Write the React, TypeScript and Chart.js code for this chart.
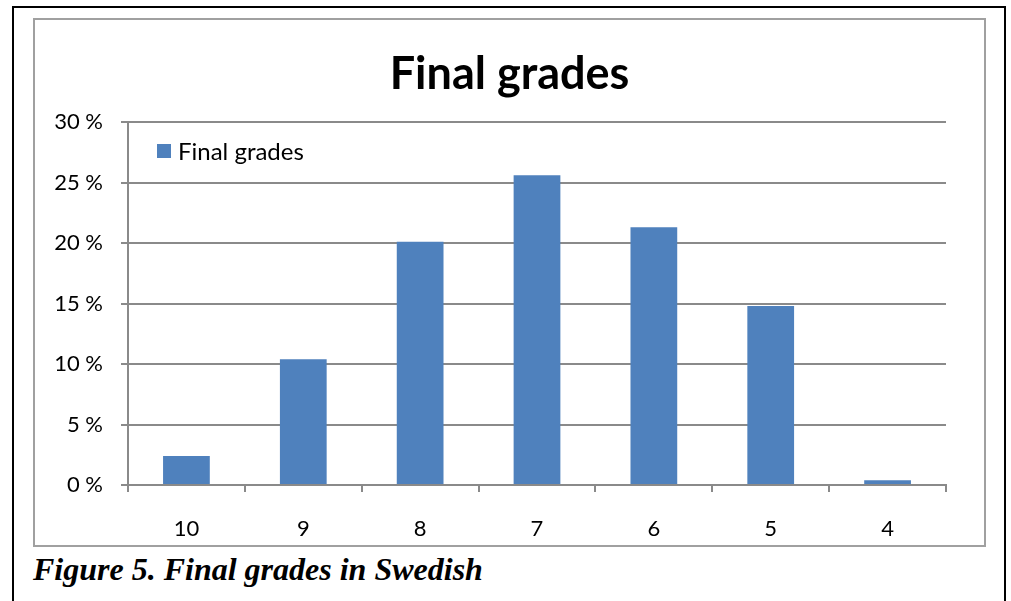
import React, { useEffect, useRef } from "react";
import { Chart, registerables } from "chart.js";

Chart.register(...registerables);

const categories = ["10", "9", "8", "7", "6", "5", "4"];
const seriesLabel = "Final grades";
const values = [2.4, 10.4, 20.1, 25.6, 21.3, 14.8, 0.4];
const yTicks = [0, 5, 10, 15, 20, 25, 30];
const titleText = "Final grades";
const captionText = "Figure 5. Final grades in Swedish";

const BAR_COLOR = "#4F81BD";
const GRID_COLOR = "#8a8a8a";
const FONT = "Lato, 'Noto Sans', sans-serif";

const insideLegend = {
  id: "insideLegend",
  afterDraw(chart: any) {
    const { ctx, chartArea } = chart;
    const ds = chart.data.datasets[0];
    ctx.save();
    ctx.fillStyle = ds.backgroundColor;
    const bx = chartArea.left + 29;
    const by = chartArea.top + 22;
    ctx.fillRect(bx, by, 14, 14);
    ctx.fillStyle = "#000";
    ctx.font = `24px ${FONT}`;
    ctx.textBaseline = "middle";
    ctx.textAlign = "left";
    ctx.fillText(ds.label, bx + 21, by + 8);
    ctx.restore();
  },
};

export default function App() {
  const ref = useRef<HTMLCanvasElement>(null);

  useEffect(() => {
    if (!ref.current) return;
    const chart = new Chart(ref.current, {
      type: "bar",
      data: {
        labels: categories,
        datasets: [
          {
            label: seriesLabel,
            data: values,
            backgroundColor: BAR_COLOR,
            borderWidth: 0,
            categoryPercentage: 1,
            barPercentage: 0.4,
          },
        ],
      },
      options: {
        animation: false,
        responsive: false,
        maintainAspectRatio: false,
        layout: { padding: 0 },
        plugins: {
          legend: { display: false },
          tooltip: { enabled: false },
          title: {
            display: true,
            text: titleText,
            color: "#000",
            font: { family: FONT, size: 45, weight: "bold", lineHeight: 1.2 },
            padding: { top: 27, bottom: 21 },
          },
        },
        scales: {
          x: {
            grid: {
              display: true,
              drawOnChartArea: false,
              drawTicks: true,
              tickLength: 7,
              color: GRID_COLOR,
              lineWidth: 2,
              offset: true,
            },
            border: { display: true, color: GRID_COLOR, width: 2 },
            ticks: {
              color: "#000",
              font: { family: FONT, size: 22 },
              padding: 24,
              maxRotation: 0,
            },
            afterFit: (s: any) => {
              s.height = 60;
            },
          },
          y: {
            min: 0,
            max: 30,
            afterBuildTicks: (s: any) => {
              s.ticks = yTicks.map((v) => ({ value: v }));
            },
            grid: {
              color: GRID_COLOR,
              lineWidth: 2,
              tickLength: 7,
              drawTicks: true,
            },
            border: { display: true, color: GRID_COLOR, width: 2 },
            ticks: {
              color: "#000",
              font: { family: FONT, size: 22 },
              padding: 18,
              callback: (v: any) => `${v} %`,
            },
            afterFit: (s: any) => {
              s.width = 93;
            },
          },
          yRight: {
            position: "right",
            display: true,
            grid: { display: false, drawTicks: false },
            border: { display: false },
            ticks: { display: false },
            afterFit: (s: any) => {
              s.width = 38;
            },
          },
        },
      },
      plugins: [insideLegend],
    });
    return () => chart.destroy();
  }, []);

  return (
    <div
      style={{
        position: "fixed",
        left: 0,
        top: 0,
        width: 1011,
        height: 601,
        background: "#fff",
        overflow: "hidden",
      }}
    >
      <div
        style={{
          position: "absolute",
          left: 12,
          top: 6,
          width: 990,
          height: 620,
          border: "2px solid #000",
        }}
      />
      <div
        style={{
          position: "absolute",
          left: 33,
          top: 18,
          width: 949,
          height: 525,
          border: "2px solid #a0a0a0",
        }}
      >
        <canvas ref={ref} width={949} height={525} style={{ display: "block" }} />
      </div>
      <div
        style={{
          position: "absolute",
          left: 33,
          top: 553,
          fontFamily: "'Liberation Serif', 'Times New Roman', serif",
          fontWeight: "bold",
          fontStyle: "italic",
          fontSize: 32,
          lineHeight: "32px",
          color: "#000",
          whiteSpace: "nowrap",
        }}
      >
        {captionText}
      </div>
    </div>
  );
}
